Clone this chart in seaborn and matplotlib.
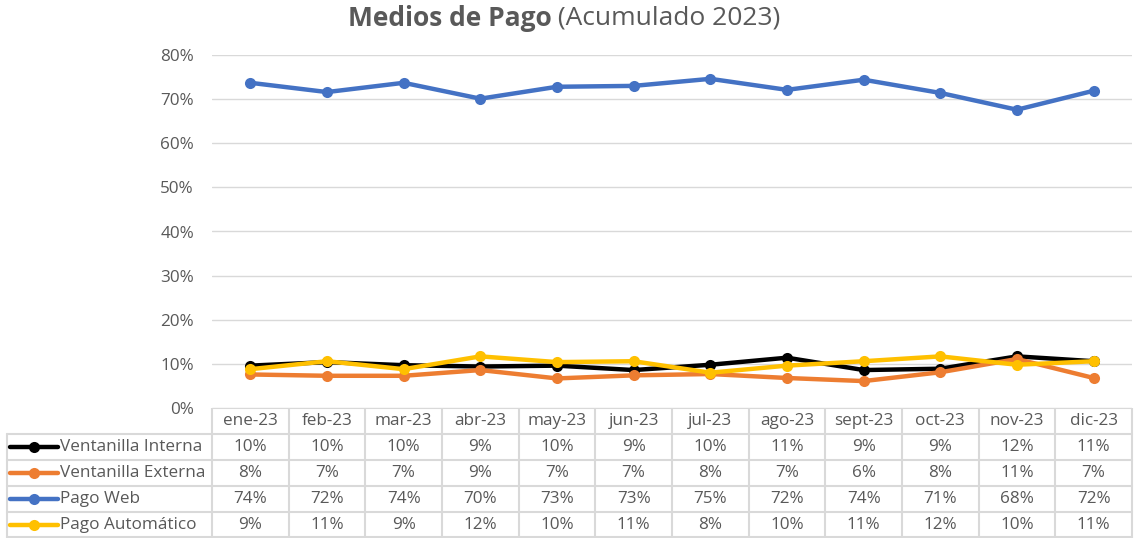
import numpy as np
import pandas as pd
import matplotlib
matplotlib.use("Agg")
import matplotlib.pyplot as plt
import seaborn as sns
from matplotlib.lines import Line2D
from matplotlib.ticker import FuncFormatter

# datos (en %)
months = ['ene-23', 'feb-23', 'mar-23', 'abr-23', 'may-23', 'jun-23',
          'jul-23', 'ago-23', 'sept-23', 'oct-23', 'nov-23', 'dic-23']
ventanilla_interna = [9.6, 10.4, 9.7, 9.4, 9.6, 8.6, 9.8, 11.4, 8.6, 8.9, 11.7, 10.6]
ventanilla_externa = [7.6, 7.3, 7.3, 8.6, 6.7, 7.4, 7.7, 6.8, 6.1, 8.1, 11.1, 6.8]
pago_web = [73.7, 71.6, 73.7, 70.1, 72.8, 73.0, 74.6, 72.1, 74.4, 71.4, 67.6, 71.9]
pago_automatico = [8.8, 10.6, 8.8, 11.7, 10.4, 10.6, 8.0, 9.6, 10.6, 11.7, 9.8, 10.6]

series_names = ['Ventanilla Interna', 'Ventanilla Externa', 'Pago Web', 'Pago Automático']
series_values = [ventanilla_interna, ventanilla_externa, pago_web, pago_automatico]
series_colors = ['#000000', '#ED7D31', '#4472C4', '#FFC000']

TEXT_COLOR = '#595959'
GRID_COLOR = '#D9D9D9'
W, H = 1135, 538
FS = 12.3

rows = []
for name, vals in zip(series_names, series_values):
    for i, v in enumerate(vals):
        rows.append({'idx': i, 'mes': months[i], 'serie': name, 'valor': v})
df = pd.DataFrame(rows)

sns.set_theme(style='white')
plt.rcParams['font.family'] = ['Open Sans', 'DejaVu Sans']

fig = plt.figure(figsize=(W / 100, H / 100), dpi=100)
ax = fig.add_axes([212 / W, 1 - 408 / H, 920 / W, 353 / H])

sns.lineplot(data=df, x='idx', y='valor', hue='serie', hue_order=series_names,
             palette=dict(zip(series_names, series_colors)), marker='o',
             markersize=8, markeredgewidth=0, linewidth=3.2, legend=False,
             sort=False, ax=ax)

ax.set_xlim(-0.5, len(months) - 0.5)
ax.set_ylim(0, 80)
ax.set_yticks(np.arange(0, 81, 10))
ax.yaxis.set_major_formatter(FuncFormatter(lambda v, p: f'{v:.0f}%'))
ax.set_xticks([])
ax.set_xlabel('')
ax.set_ylabel('')
ax.grid(axis='y', color=GRID_COLOR, linewidth=1)
ax.set_axisbelow(True)
for s in ax.spines.values():
    s.set_visible(False)
ax.tick_params(axis='y', length=0, pad=13, labelsize=FS, labelcolor=TEXT_COLOR)

# titulo: parte en negrita + parte normal, centrado en conjunto
t1 = fig.text(0, 1 - 18 / H, 'Medios de Pago', ha='left', va='center',
              fontsize=19, fontweight='bold', color=TEXT_COLOR)
t2 = fig.text(0, 1 - 18 / H, ' (Acumulado 2023)', ha='left', va='center',
              fontsize=19, color=TEXT_COLOR)
rend = fig.canvas.get_renderer()
w1 = t1.get_window_extent(rend).width
w2 = t2.get_window_extent(rend).width
start = 564 - (w1 + w2) / 2
t1.set_x(start / W)
t2.set_x((start + w1) / W)

# tabla de datos
tab = fig.add_axes([0, 0, 1, 130 / H])
tab.set_xlim(0, W)
tab.set_ylim(538, 408)
tab.axis('off')

x0, x1, left = 212, 1132, 7
col_w = (x1 - x0) / len(months)
row_h = 26
top = 408
lw_tab = 1.5

tab.plot([x0, x1], [top, top], color=GRID_COLOR, lw=lw_tab)
for r in range(1, 6):
    y = min(top + r * row_h, 537)
    tab.plot([left, x1], [y, y], color=GRID_COLOR, lw=lw_tab)
tab.plot([left, left], [top + row_h, 538], color=GRID_COLOR, lw=lw_tab)
for k in range(len(months) + 1):
    xx = x0 + k * col_w
    tab.plot([xx, xx], [top, 538], color=GRID_COLOR, lw=lw_tab)

for i, m in enumerate(months):
    tab.text(x0 + (i + 0.5) * col_w, top + row_h / 2, m, ha='center', va='center',
             fontsize=FS, color=TEXT_COLOR)

for r, (name, vals, col) in enumerate(zip(series_names, series_values, series_colors)):
    yc = top + (r + 1.5) * row_h
    tab.add_line(Line2D([10, 58], [yc, yc], color=col, lw=3.2))
    tab.plot([34], [yc], marker='o', color=col, markersize=8, markeredgewidth=0)
    tab.text(60, yc, name, ha='left', va='center', fontsize=FS, color=TEXT_COLOR)
    for i, v in enumerate(vals):
        tab.text(x0 + (i + 0.5) * col_w, yc, f'{v:.0f}%', ha='center', va='center',
                 fontsize=FS, color=TEXT_COLOR)

fig.savefig('out.png', dpi=100)
